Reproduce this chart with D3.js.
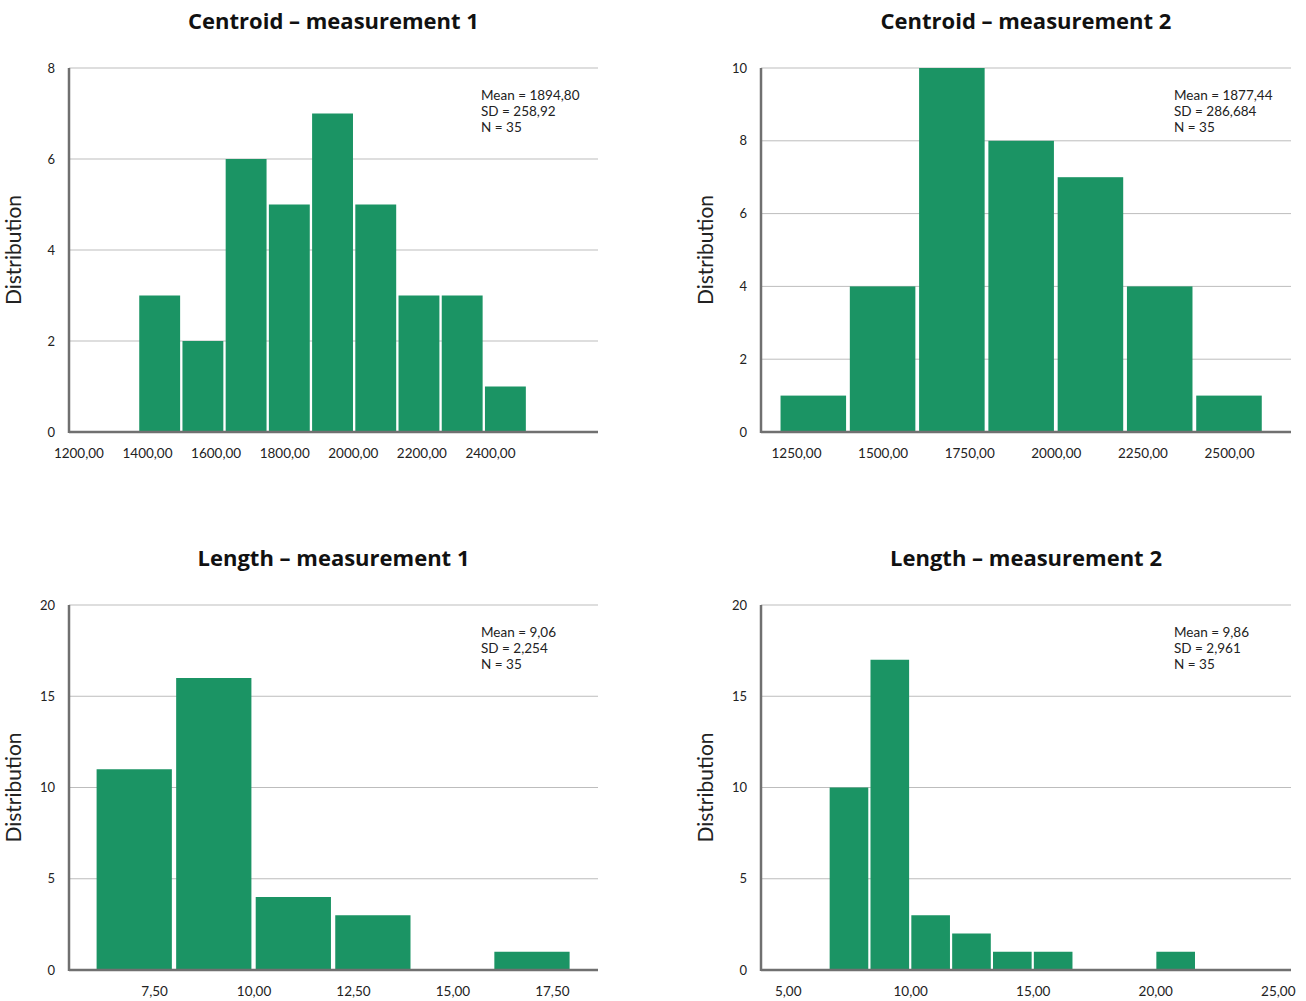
<!DOCTYPE html>
<html>
<head>
<meta charset="utf-8">
<script src="https://cdn.jsdelivr.net/npm/d3@7"></script>
<style>
  body { margin: 0; background: #fff; }
  svg { font-family: Lato, "Noto Sans", sans-serif; }
</style>
</head>
<body>
<svg id="chart" width="1306" height="1001"></svg>
<script>
// chart data
const titles = ['Centroid – measurement 1', 'Centroid – measurement 2', 'Length – measurement 1', 'Length – measurement 2'];

const centroid1Counts = [3, 2, 6, 5, 7, 5, 3, 3, 1];
const centroid1Bins = [1374, 126]; // first edge, bin width
const centroid1Ticks = [1200, 1400, 1600, 1800, 2000, 2200, 2400];
const centroid1Stats = ['Mean = 1894,80', 'SD = 258,92', 'N = 35'];

const centroid2Counts = [1, 4, 10, 8, 7, 4, 1];
const centroid2Bins = [1200, 200];
const centroid2Ticks = [1250, 1500, 1750, 2000, 2250, 2500];
const centroid2Stats = ['Mean = 1877,44', 'SD = 286,684', 'N = 35'];

const length1Counts = [11, 16, 4, 3, 0, 1];
const length1Bins = [6, 2];
const length1Ticks = [7.5, 10, 12.5, 15, 17.5];
const length1Stats = ['Mean = 9,06', 'SD = 2,254', 'N = 35'];

const length2Counts = [10, 17, 3, 2, 1, 1, 0, 0, 1];
const length2Bins = [20 / 3, 5 / 3];
const length2Ticks = [5, 10, 15, 20, 25];
const length2Stats = ['Mean = 9,86', 'SD = 2,961', 'N = 35'];

const yTicksTop1 = [0, 2, 4, 6, 8];
const yTicksTop2 = [0, 2, 4, 6, 8, 10];
const yTicksBottom = [0, 5, 10, 15, 20];

const barColor = '#1b9464';

const locale = d3.formatLocale({decimal: ',', thousands: '', grouping: [3], currency: ['', '']});
const fmt = locale.format('.2f');

const svg = d3.select('#chart');

function drawPanel({title, counts, bins, xTicks, xDomain, yTicks, stats, box}) {
    const [left, top, right, bottom] = box;

    const x = d3.scaleLinear().domain(xDomain).range([left, right]);
    const y = d3.scaleLinear().domain([0, d3.max(yTicks)]).range([bottom, top]);

    const g = svg.append('g');

    // gridlines
    g.selectAll('line.grid')
        .data(yTicks.filter(t => t > 0))
        .enter().append('line')
        .attr('class', 'grid')
        .attr('x1', left).attr('x2', right)
        .attr('y1', d => y(d)).attr('y2', d => y(d))
        .attr('stroke', '#bdbdbd')
        .attr('stroke-width', 1);

    // bars
    const binData = counts.map((c, i) => ({
        x0: bins[0] + i * bins[1],
        x1: bins[0] + (i + 1) * bins[1],
        count: c
    })).filter(d => d.count > 0);

    // small white gap between bars, about 5% of the bin
    const gap = d => (x(d.x1) - x(d.x0)) * 0.027;

    g.selectAll('rect.bar')
        .data(binData)
        .enter().append('rect')
        .attr('class', 'bar')
        .attr('x', d => x(d.x0) + gap(d))
        .attr('width', d => x(d.x1) - x(d.x0) - 2 * gap(d))
        .attr('y', d => y(d.count))
        .attr('height', d => y(0) - y(d.count))
        .attr('fill', barColor);

    // y tick labels
    const yAxis = d3.axisLeft(y).tickValues(yTicks).tickSize(0).tickPadding(14);
    g.append('g')
        .attr('transform', `translate(${left},0)`)
        .call(yAxis)
        .call(a => a.select('.domain').remove())
        .selectAll('text')
        .attr('font-size', 13)
        .attr('fill', '#222')
        .attr('font-family', 'Lato, sans-serif');

    // x tick labels
    const xAxis = d3.axisBottom(x).tickValues(xTicks).tickSize(0).tickPadding(16).tickFormat(fmt);
    g.append('g')
        .attr('transform', `translate(0,${bottom})`)
        .call(xAxis)
        .call(a => a.select('.domain').remove())
        .selectAll('text')
        .attr('font-size', 13.5)
        .attr('fill', '#222')
        .attr('font-family', 'Lato, sans-serif');

    // axis lines
    g.append('line')
        .attr('x1', left).attr('x2', left)
        .attr('y1', top).attr('y2', bottom + 1)
        .attr('stroke', '#707070').attr('stroke-width', 2.5);
    g.append('line')
        .attr('x1', left).attr('x2', right)
        .attr('y1', bottom).attr('y2', bottom)
        .attr('stroke', '#707070').attr('stroke-width', 2.5);

    // title
    g.append('text')
        .attr('x', (left + right) / 2)
        .attr('y', top - 39)
        .attr('text-anchor', 'middle')
        .attr('font-family', '"Open Sans", sans-serif')
        .attr('font-size', 22)
        .attr('font-weight', 'bold')
        .attr('fill', '#111')
        .text(title);

    // y label
    g.append('text')
        .attr('transform', `translate(${left - 48},${(top + bottom) / 2}) rotate(-90)`)
        .attr('text-anchor', 'middle')
        .attr('font-size', 21)
        .attr('fill', '#222')
        .text('Distribution');

    // stats box
    g.selectAll('text.stat')
        .data(stats)
        .enter().append('text')
        .attr('class', 'stat')
        .attr('x', right - 117)
        .attr('y', (d, i) => top + 32 + i * 16)
        .attr('font-size', 13.5)
        .attr('fill', '#222')
        .text(d => d);
}

drawPanel({title: titles[0], counts: centroid1Counts, bins: centroid1Bins, xTicks: centroid1Ticks,
    xDomain: [1172.6, 2715], yTicks: yTicksTop1, stats: centroid1Stats, box: [69, 68, 598, 432]});
drawPanel({title: titles[1], counts: centroid2Counts, bins: centroid2Bins, xTicks: centroid2Ticks,
    xDomain: [1149, 2679], yTicks: yTicksTop2, stats: centroid2Stats, box: [761, 68, 1291, 432]});
drawPanel({title: titles[2], counts: length1Counts, bins: length1Bins, xTicks: length1Ticks,
    xDomain: [5.36, 18.66], yTicks: yTicksBottom, stats: length1Stats, box: [69, 605, 598, 970]});
drawPanel({title: titles[3], counts: length2Counts, bins: length2Bins, xTicks: length2Ticks,
    xDomain: [3.91, 25.54], yTicks: yTicksBottom, stats: length2Stats, box: [761, 605, 1291, 970]});
</script>
</body>
</html>
